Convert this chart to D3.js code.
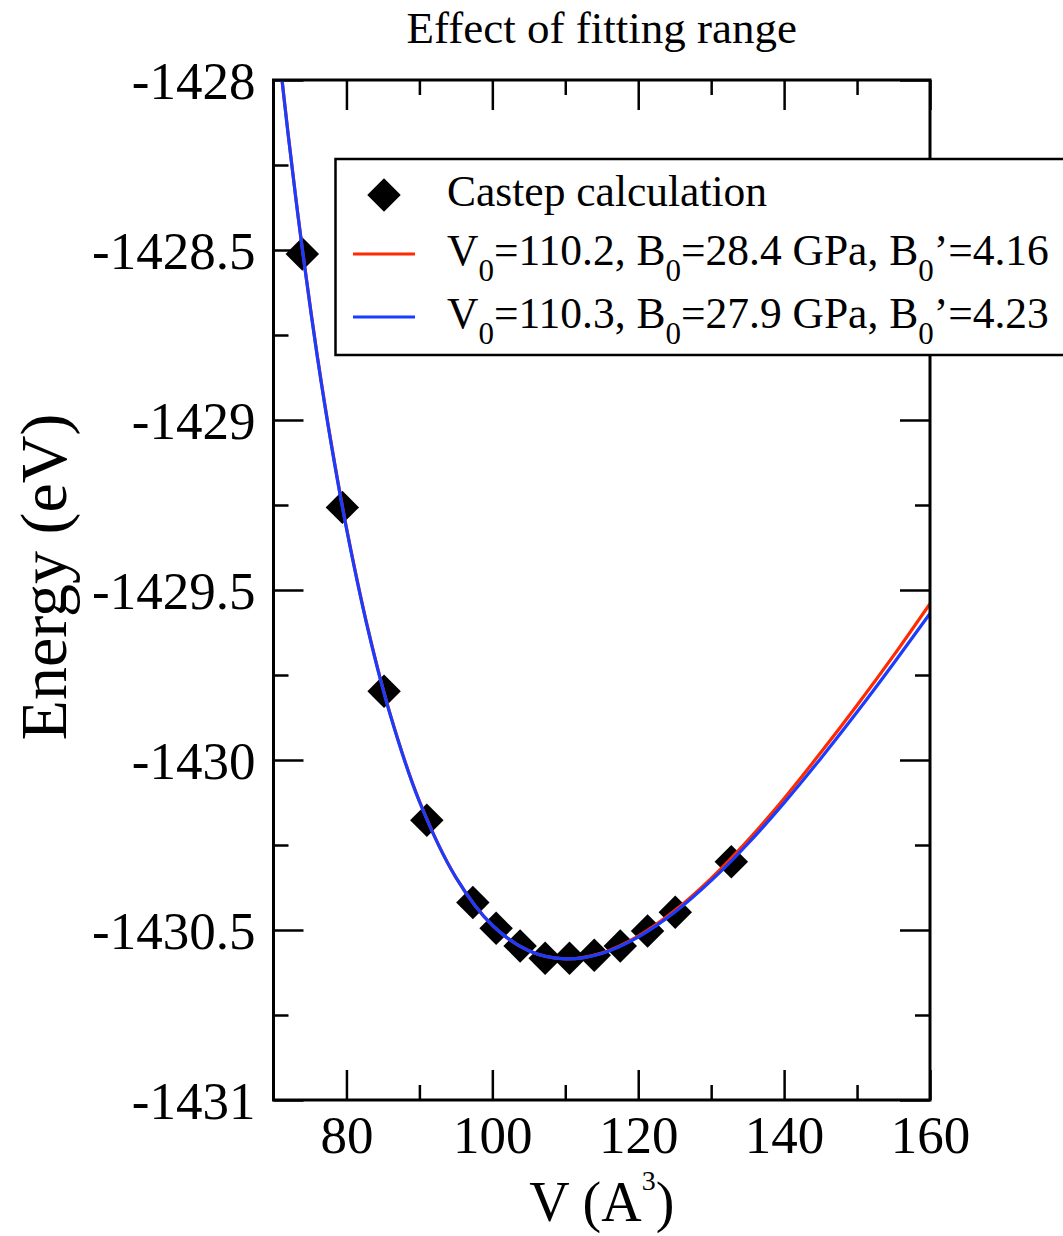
<!DOCTYPE html>
<html>
<head>
<meta charset="utf-8">
<script src="https://cdn.jsdelivr.net/npm/d3@7/dist/d3.min.js"></script>
<style>
  html, body { margin: 0; padding: 0; background: #fff; }
  svg { display: block; }
  text { font-family: "Liberation Serif", "Times New Roman", serif; fill: #000; }
</style>
</head>
<body>
<svg id="chart" width="1063" height="1236"></svg>
<script>
// ---------------- data ----------------
const titleText = "Effect of fitting range";
const xTitle = "V (A";
const xTitleSup = "3";
const yTitle = "Energy (eV)";

// Castep calculation points
const calcV = [73.95, 79.44, 85.16, 91.02, 97.33, 100.52, 103.81, 107.24, 110.58, 113.97, 117.54, 121.28, 125.08, 132.76];
const calcE = [-1428.512, -1429.257, -1429.798, -1430.177, -1430.419, -1430.495, -1430.547, -1430.583, -1430.583, -1430.574, -1430.547, -1430.503, -1430.448, -1430.299];

// fitted curves
const fitV = [71, 72, 73, 74, 76, 78, 80, 83, 86, 90, 95, 100, 105, 110, 115, 120, 125, 130, 135, 140, 145, 150, 155, 160];
const redE = [-1427.967, -1428.157, -1428.336, -1428.504, -1428.810, -1429.079, -1429.316, -1429.618, -1429.865, -1430.121, -1430.345, -1430.486, -1430.561, -1430.585, -1430.568, -1430.518, -1430.443, -1430.348, -1430.237, -1430.113, -1429.979, -1429.839, -1429.693, -1429.540];
const blueE = [-1427.968, -1428.159, -1428.338, -1428.506, -1428.813, -1429.082, -1429.319, -1429.621, -1429.867, -1430.122, -1430.345, -1430.486, -1430.561, -1430.585, -1430.569, -1430.521, -1430.448, -1430.355, -1430.247, -1430.126, -1429.996, -1429.859, -1429.716, -1429.569];

const legendLabels = ["Castep calculation", "V_0=110.2, B_0=28.4 GPa, B_0\u2019=4.16", "V_0=110.3, B_0=27.9 GPa, B_0\u2019=4.23"];
const seriesColors = ["#000000", "#ff2a00", "#1a3cff"];

const xDomain = [70, 160];
const yDomain = [-1431, -1428];
const xMajor = [80, 100, 120, 140, 160];
const xMinor = [90, 110, 130, 150];
const yMajor = [-1431, -1430.5, -1430, -1429.5, -1429, -1428.5, -1428];
const yMinor = [-1430.75, -1430.25, -1429.75, -1429.25, -1428.75, -1428.25];

// ---------------- layout ----------------
const L = 273.5, R = 930, T = 80, B = 1100;
const svg = d3.select("#chart");
const x = d3.scaleLinear().domain(xDomain).range([L, R]);
const y = d3.scaleLinear().domain(yDomain).range([B, T]);

svg.append("rect").attr("width", 1063).attr("height", 1236).attr("fill", "#fff");

svg.append("defs").append("clipPath").attr("id", "plotclip")
  .append("rect").attr("x", L).attr("y", T).attr("width", R - L).attr("height", B - T);

// axes (ticks inward)
function styleAxis(g) {
  g.select(".domain").remove();
  g.selectAll(".tick line").attr("stroke", "#000").attr("stroke-width", 2.5);
  g.selectAll("text").style("font-family", "'Liberation Serif', 'Times New Roman', serif").attr("fill", "#000");
}
const fmt = d => String(d);

// bottom
svg.append("g").attr("transform", `translate(0,${B})`)
  .call(d3.axisBottom(x).tickValues(xMajor).tickSizeInner(-30).tickSizeOuter(0).tickPadding(15).tickFormat(fmt))
  .call(styleAxis)
  .call(g => g.selectAll("text").attr("font-size", 53).attr("dy", "0.72em"));
svg.append("g").attr("transform", `translate(0,${B})`)
  .call(d3.axisBottom(x).tickValues(xMinor).tickSizeInner(-15).tickSizeOuter(0).tickFormat(""))
  .call(styleAxis);
// top
svg.append("g").attr("transform", `translate(0,${T})`)
  .call(d3.axisTop(x).tickValues(xMajor).tickSizeInner(-30).tickSizeOuter(0).tickFormat(""))
  .call(styleAxis);
svg.append("g").attr("transform", `translate(0,${T})`)
  .call(d3.axisTop(x).tickValues(xMinor).tickSizeInner(-15).tickSizeOuter(0).tickFormat(""))
  .call(styleAxis);
// left
svg.append("g").attr("transform", `translate(${L},0)`)
  .call(d3.axisLeft(y).tickValues(yMajor).tickSizeInner(-30).tickSizeOuter(0).tickPadding(18).tickFormat(fmt))
  .call(styleAxis)
  .call(g => g.selectAll("text").attr("font-size", 53).attr("dy", "0.34em"));
svg.append("g").attr("transform", `translate(${L},0)`)
  .call(d3.axisLeft(y).tickValues(yMinor).tickSizeInner(-15).tickSizeOuter(0).tickFormat(""))
  .call(styleAxis);
// right
svg.append("g").attr("transform", `translate(${R},0)`)
  .call(d3.axisRight(y).tickValues(yMajor).tickSizeInner(-30).tickSizeOuter(0).tickFormat(""))
  .call(styleAxis);
svg.append("g").attr("transform", `translate(${R},0)`)
  .call(d3.axisRight(y).tickValues(yMinor).tickSizeInner(-15).tickSizeOuter(0).tickFormat(""))
  .call(styleAxis);

// data points
const diamond = d3.symbol().type(d3.symbolSquare).size(560);
const plot = svg.append("g").attr("clip-path", "url(#plotclip)");
plot.selectAll("path.pt").data(calcV.map((v, i) => [v, calcE[i]])).join("path")
  .attr("class", "pt")
  .attr("d", diamond)
  .attr("transform", d => `translate(${x(d[0])},${y(d[1])}) rotate(45)`)
  .attr("fill", seriesColors[0]);

// fitted curves
const line = d3.line().x(d => x(d[0])).y(d => y(d[1])).curve(d3.curveCatmullRom.alpha(0.5));
[[redE, seriesColors[1]], [blueE, seriesColors[2]]].forEach(([es, c]) => {
  plot.append("path")
    .datum(fitV.map((v, i) => [v, es[i]]))
    .attr("d", line)
    .attr("fill", "none")
    .attr("stroke", c)
    .attr("stroke-width", 3.2);
});

// frame
svg.append("rect").attr("x", L).attr("y", T).attr("width", R - L).attr("height", B - T)
  .attr("fill", "none").attr("stroke", "#000").attr("stroke-width", 3);

// legend
const lg = svg.append("g");
lg.append("rect").attr("x", 335.5).attr("y", 159).attr("width", 760).attr("height", 196)
  .attr("fill", "#fff").attr("stroke", "#000").attr("stroke-width", 2.5);
const rowY = [195, 254, 317];
lg.append("path").attr("d", diamond)
  .attr("transform", `translate(384,${rowY[0]}) rotate(45)`).attr("fill", seriesColors[0]);
[1, 2].forEach(i => {
  lg.append("line").attr("x1", 353).attr("x2", 415).attr("y1", rowY[i]).attr("y2", rowY[i])
    .attr("stroke", seriesColors[i]).attr("stroke-width", 3.2);
});
legendLabels.forEach((lab, i) => {
  const t = lg.append("text").attr("x", 447).attr("y", rowY[i] + 11).attr("font-size", 43.5);
  const parts = lab.split("_0");
  parts.forEach((p, j) => {
    if (j > 0) {
      t.append("tspan").attr("dy", 16).attr("font-size", 31).text("0");
      t.append("tspan").attr("dy", -16).text(p);
    } else {
      t.append("tspan").text(p);
    }
  });
});

// titles
svg.append("text").attr("x", (L + R) / 2).attr("y", 43).attr("text-anchor", "middle")
  .attr("font-size", 45).text(titleText);

const xt = svg.append("text").attr("x", (L + R) / 2).attr("y", 1221).attr("text-anchor", "middle")
  .attr("font-size", 56);
xt.append("tspan").text(xTitle);
xt.append("tspan").attr("dy", -31).attr("font-size", 28).text(xTitleSup);
xt.append("tspan").attr("dy", 31).text(")");

svg.append("text").attr("transform", "translate(66,577) rotate(-90)").attr("text-anchor", "middle")
  .attr("font-size", 66).text(yTitle);
</script>
</body>
</html>
